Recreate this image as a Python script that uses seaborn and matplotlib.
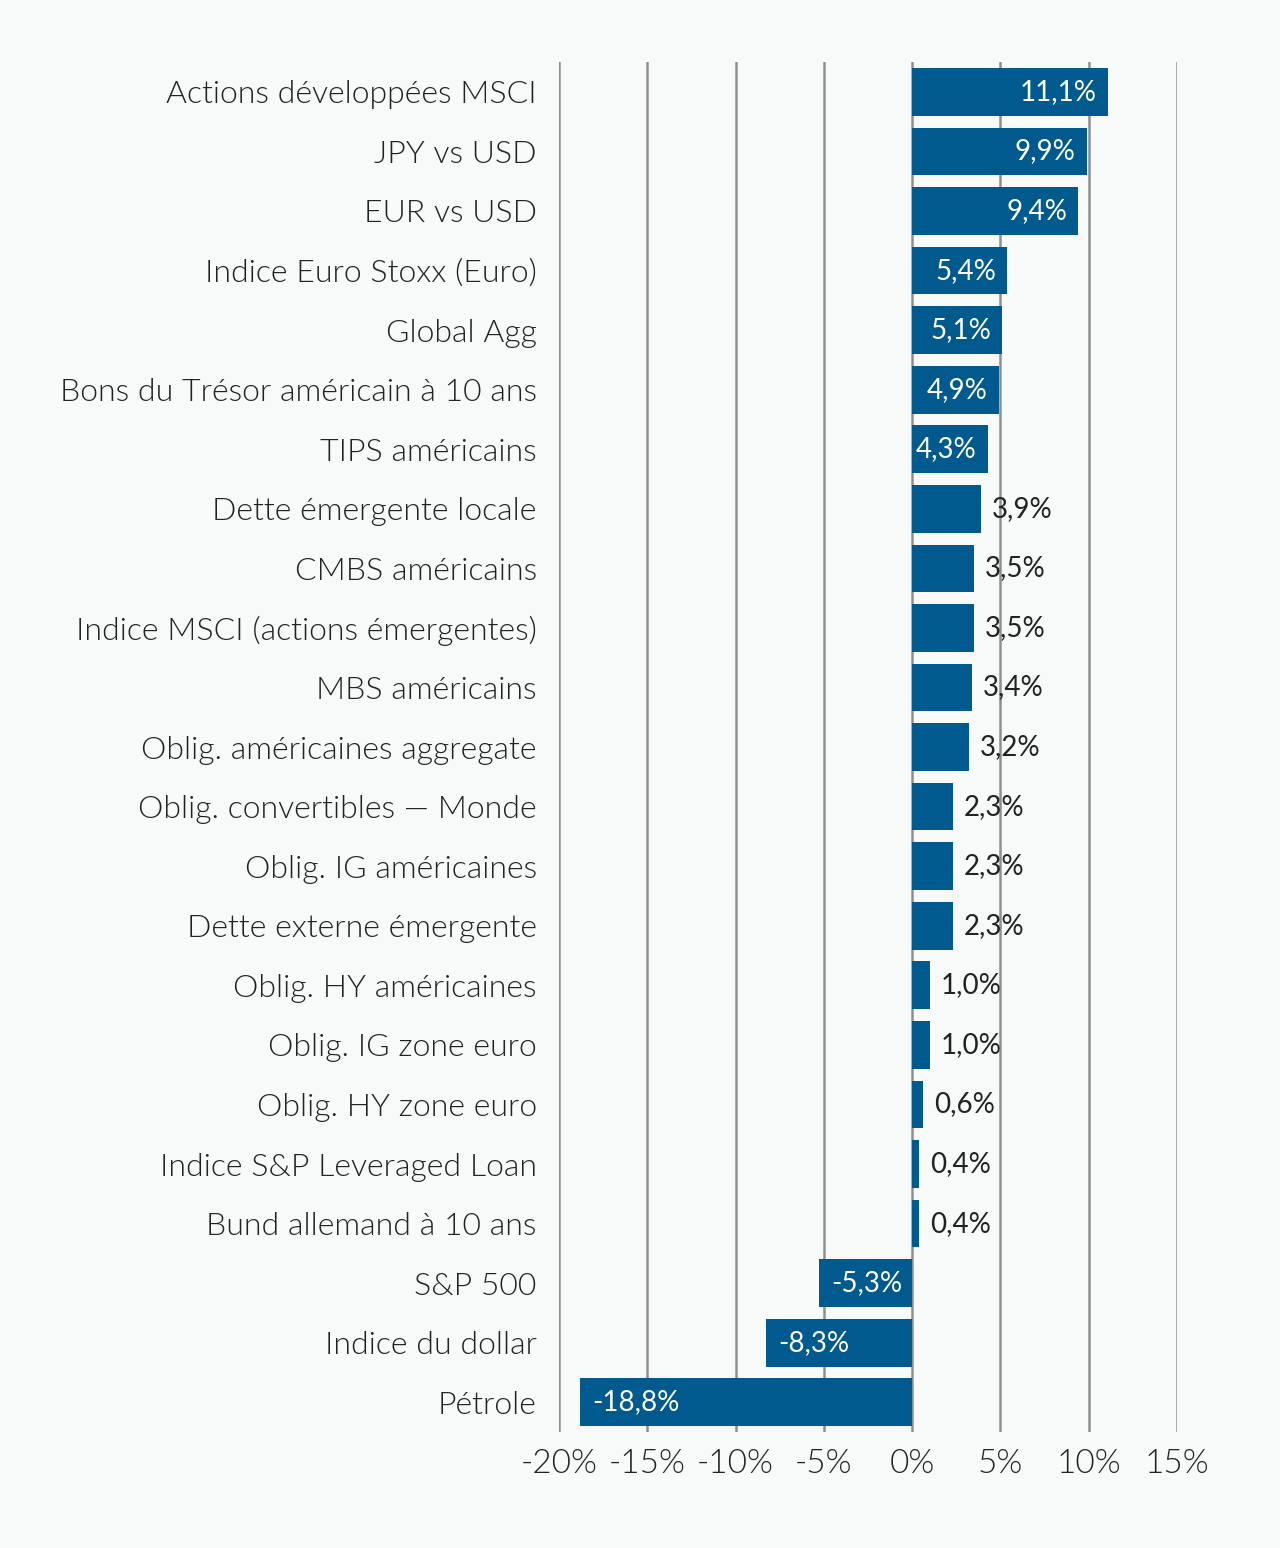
import matplotlib
matplotlib.use("Agg")
import matplotlib.pyplot as plt
import seaborn as sns
import pandas as pd

categories = [
    "Actions développées MSCI", "JPY vs USD", "EUR vs USD", "Indice Euro Stoxx (Euro)",
    "Global Agg", "Bons du Trésor américain à 10 ans", "TIPS américains",
    "Dette émergente locale", "CMBS américains", "Indice MSCI (actions émergentes)",
    "MBS américains", "Oblig. américaines aggregate", "Oblig. convertibles — Monde",
    "Oblig. IG américaines", "Dette externe émergente", "Oblig. HY américaines",
    "Oblig. IG zone euro", "Oblig. HY zone euro", "Indice S&P Leveraged Loan",
    "Bund allemand à 10 ans", "S&P 500", "Indice du dollar", "Pétrole",
]
values = [11.1, 9.9, 9.4, 5.4, 5.1, 4.9, 4.3, 3.9, 3.5, 3.5, 3.4, 3.2, 2.3, 2.3, 2.3,
          1.0, 1.0, 0.6, 0.4, 0.4, -5.3, -8.3, -18.8]
x_ticks = [-20, -15, -10, -5, 0, 5, 10, 15]

bg = "#f8fafa"
bar_color = "#005a8e"
text_color = "#222222"

sns.set_theme(style="white")
plt.rcParams["font.family"] = ["Lato", "DejaVu Sans"]
plt.rcParams["font.weight"] = 300

df = pd.DataFrame({"cat": categories, "val": values})

fig = plt.figure(figsize=(12.8, 15.48), dpi=100, facecolor=bg)
ax = fig.add_axes([0.4367, 0.0749, 0.4828, 0.885])
ax.set_facecolor(bg)

for t in x_ticks:
    ax.axvline(t, color="#8f8f8f", lw=1.8, zorder=0)

sns.barplot(data=df, x="val", y="cat", color=bar_color, saturation=1,
            width=0.8, linewidth=0, ax=ax, zorder=2)

ax.set_xlim(-20, 15)
ax.set_ylim(22.5, -0.5)
ax.set_xticks(x_ticks)
ax.set_xticklabels([f"{t}%" for t in x_ticks], fontsize=24, color=text_color)
ax.tick_params(axis="y", labelsize=23, labelcolor=text_color, pad=16, length=0)
ax.tick_params(axis="x", pad=12, length=0)
ax.set_xlabel("")
ax.set_ylabel("")
for s in ax.spines.values():
    s.set_visible(False)

for i, v in enumerate(values):
    lab = f"{v:.1f}%".replace(".", ",")
    if v < 0:
        ax.annotate(lab, (v, i), xytext=(9, 0), textcoords="offset points",
                    ha="left", va="center", color="white", fontsize=20, fontweight="normal")
    elif v >= 4.3:
        ax.annotate(lab, (v, i), xytext=(-8, 0), textcoords="offset points",
                    ha="right", va="center", color="white", fontsize=20, fontweight="normal")
    else:
        ax.annotate(lab, (v, i), xytext=(8, 0), textcoords="offset points",
                    ha="left", va="center", color=text_color, fontsize=20, fontweight="normal")

fig.savefig("out.png", dpi=100, facecolor=bg)
